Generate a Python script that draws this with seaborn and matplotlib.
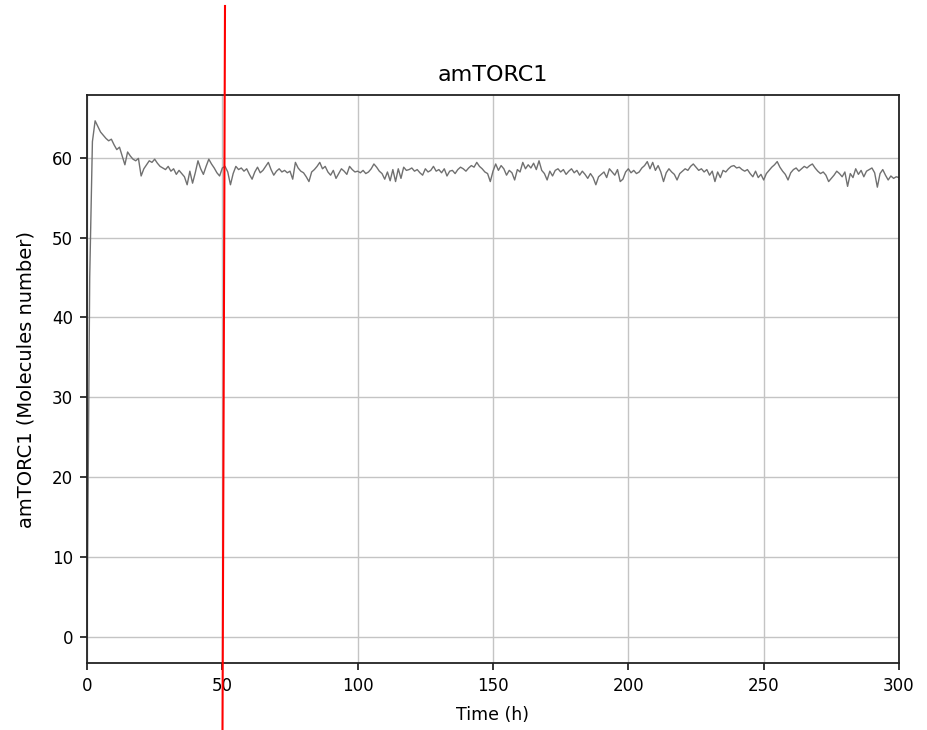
import matplotlib
matplotlib.use("Agg")
import matplotlib.pyplot as plt
from matplotlib.lines import Line2D
import numpy as np
import pandas as pd
import seaborn as sns

title = "amTORC1"
x_label = "Time (h)"
y_label = "amTORC1 (Molecules number)"
x_ticks = [0, 50, 100, 150, 200, 250, 300]
y_ticks = [0, 10, 20, 30, 40, 50, 60]
marker_time = 50

time_h = list(range(0, 301))
molecules = [
    0.0, 45.0, 62.0, 64.6, 63.9, 63.2, 62.8, 62.4, 62.1, 62.3,
    61.6, 61.0, 61.3, 60.2, 59.1, 60.7, 60.2, 59.8, 59.6, 59.9,
    57.7, 58.6, 59.1, 59.6, 59.4, 59.8, 59.3, 58.9, 58.7, 58.5,
    58.9, 58.3, 58.6, 57.9, 58.4, 58.0, 57.6, 56.6, 58.3, 56.8,
    58.1, 59.6, 58.6, 57.9, 58.9, 59.8, 59.2, 58.7, 58.1, 57.7,
    58.7, 58.9, 58.2, 56.6, 58.0, 58.9, 58.5, 58.7, 58.3, 58.6,
    57.9, 57.3, 58.2, 58.8, 58.1, 58.4, 58.9, 59.4, 58.5, 57.8,
    58.3, 58.6, 58.2, 58.4, 58.1, 58.3, 57.3, 59.4, 58.7, 58.3,
    58.1, 57.6, 57.0, 58.2, 58.5, 58.9, 59.4, 58.6, 58.9, 58.2,
    57.8, 58.4, 57.4, 58.0, 58.6, 58.3, 57.9, 58.9, 58.5, 58.2,
    58.3, 58.1, 58.4, 58.0, 58.2, 58.6, 59.2, 58.8, 58.3, 58.0,
    57.3, 58.2, 57.1, 58.5, 57.0, 58.6, 57.4, 58.8, 58.4, 58.5,
    58.7, 58.3, 58.5, 58.1, 57.8, 58.6, 58.2, 58.4, 58.9, 58.3,
    58.5, 58.1, 58.6, 57.7, 58.3, 58.4, 58.0, 58.5, 58.8, 58.6,
    58.3, 58.7, 59.0, 58.8, 59.4, 58.9, 58.6, 58.2, 58.0, 57.0,
    58.3, 59.2, 58.4, 59.0, 58.6, 57.8, 58.4, 58.1, 57.2, 58.5,
    58.2, 59.4, 58.6, 59.1, 58.7, 59.3, 58.5, 59.6, 58.4, 58.0,
    57.2, 58.3, 57.7, 58.4, 58.6, 58.2, 58.5, 57.9, 58.3, 58.6,
    58.1, 58.4, 57.8, 58.3, 57.9, 57.4, 58.0, 57.5, 56.6, 57.6,
    57.9, 58.2, 57.5, 58.6, 58.2, 57.8, 58.5, 57.0, 57.3, 58.2,
    58.6, 58.1, 58.4, 58.0, 58.2, 58.7, 59.0, 59.5, 58.6, 59.4,
    58.4, 59.0, 58.2, 57.0, 58.1, 58.6, 58.2, 57.9, 57.2, 58.0,
    58.3, 58.6, 58.4, 58.9, 59.2, 58.8, 58.4, 58.6, 58.2, 58.5,
    57.8, 58.3, 57.0, 58.2, 57.5, 58.4, 58.2, 58.6, 58.9, 59.0,
    58.7, 58.8, 58.5, 58.3, 58.5, 58.0, 57.6, 58.3, 57.5, 57.9,
    57.2, 58.0, 58.4, 58.8, 59.1, 59.5, 58.8, 58.3, 57.9, 57.2,
    58.1, 58.5, 58.7, 58.3, 58.6, 58.9, 58.7, 59.0, 59.2, 58.7,
    58.3, 58.0, 58.2, 57.8, 57.0, 57.4, 57.8, 58.3, 58.0, 57.6,
    58.2, 56.4, 58.0, 57.5, 58.6, 57.9, 58.4, 57.6, 58.3, 58.5,
    58.7, 58.1, 56.3, 58.0, 58.5, 57.8, 57.2, 57.7, 57.4, 57.6,
    57.5,
]

df = pd.DataFrame({"time": time_h, "value": molecules})

fig = plt.figure(figsize=(9.28, 7.30), dpi=100)
ax = fig.add_axes([87 / 928, 1 - 663 / 730, (899 - 87) / 928, (663 - 95) / 730])

sns.lineplot(data=df, x="time", y="value", ax=ax, color="#707070", linewidth=1.0)

ax.set_xlim(0, 300)
ax.set_xticks(x_ticks)
ax.set_yticks(y_ticks)
ax.grid(True, color="#c4c4c4", linewidth=1.0)
ax.set_axisbelow(True)
ax.tick_params(axis="both", labelsize=12, length=5, width=1.1, direction="out", pad=5)
for s in ax.spines.values():
    s.set_linewidth(1.3)
    s.set_color("#222222")
ax.set_title(title, fontsize=16, pad=10)
ax.set_xlabel(x_label, fontsize=12.5, labelpad=8)
ax.set_ylabel(y_label, fontsize=14, labelpad=12)

# red marker line (drawn across the whole figure, slightly slanted)
fig.lines.append(Line2D([225 / 928, 222.5 / 928], [1 - 6 / 730, 0.0],
                        transform=fig.transFigure, color="red", linewidth=1.5))

fig.savefig("out.png", dpi=100)
